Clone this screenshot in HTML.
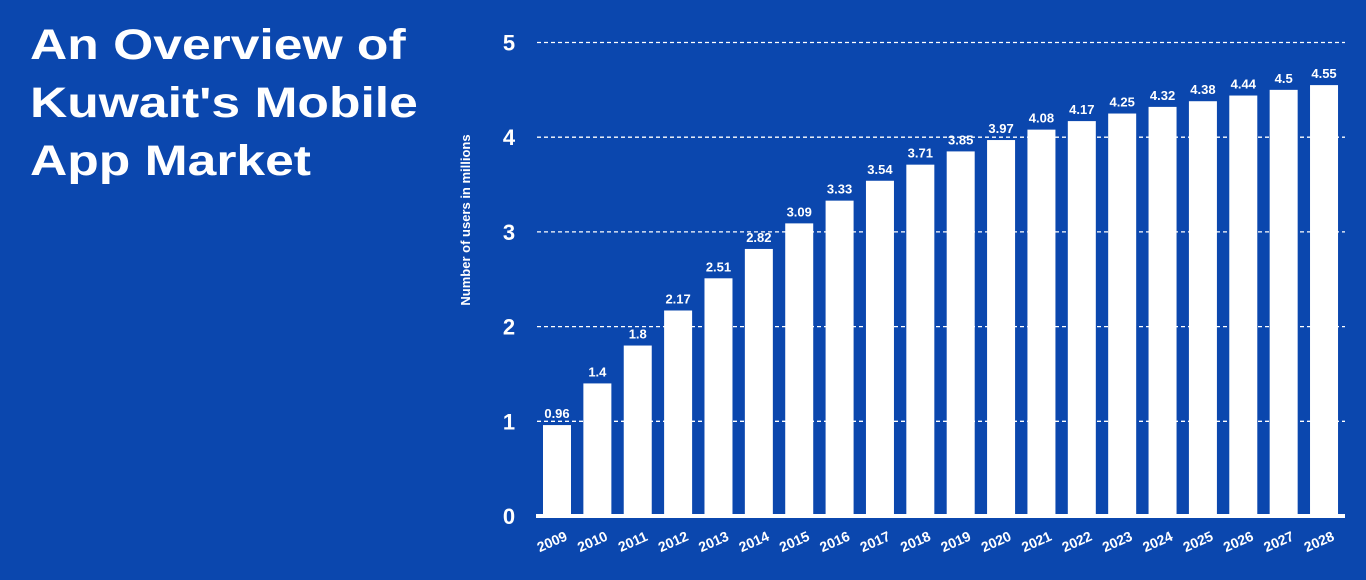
<!DOCTYPE html>
<html><head><meta charset="utf-8"><style>
body{margin:0;width:1366px;height:580px;background:#0b47ae;overflow:hidden;font-family:"Liberation Sans",sans-serif;}
#title{position:absolute;left:30px;top:16px;color:#fff;font-weight:bold;font-size:43px;line-height:58px;transform:scaleX(1.2);transform-origin:left top;white-space:nowrap;}
svg{position:absolute;left:0;top:0}
</style></head><body>
<div id="title">An Overview of<br>Kuwait's Mobile<br>App Market</div>
<svg id="c" width="1366" height="580"></svg>
<script>
const years=["2009","2010","2011","2012","2013","2014","2015","2016","2017","2018","2019","2020","2021","2022","2023","2024","2025","2026","2027","2028"];
const users=[0.96,1.4,1.8,2.17,2.51,2.82,3.09,3.33,3.54,3.71,3.85,3.97,4.08,4.17,4.25,4.32,4.38,4.44,4.5,4.55];
const ticks=[0,1,2,3,4,5];
const svg=document.getElementById('c');const NS='http://www.w3.org/2000/svg';
function y(v){return 516-v*94.7;}
function x(i){return 543+i*40.37;}
function mk(t,a,txt){const e=document.createElementNS(NS,t);for(const k in a)e.setAttribute(k,a[k]);if(txt!==undefined)e.textContent=txt;svg.appendChild(e);return e;}
ticks.forEach(t=>{
 if(t>0){const g=mk('line',{x1:537,x2:1345,y1:y(t),y2:y(t),stroke:'#fff','stroke-width':1.3,'stroke-dasharray':'4 3'});
 
 }
 const l=mk('text',{x:509,y:y(t)+8,fill:'#fff','font-size':22,'font-weight':'bold','text-anchor':'middle'},t);
 
 
});
const yt=mk('text',{x:0,y:0,fill:'#fff','font-size':13,'font-weight':'bold','text-anchor':'middle',transform:'translate(470,220) rotate(-90)'},'Number of users in millions');


users.forEach((v,i)=>{
 const b=mk('rect',{x:x(i),y:y(v),width:28,height:y(0)-y(v),fill:'#fff'});
 
 
 const t=mk('text',{x:x(i)+14,y:y(v)-7,fill:'#fff','font-size':13,'font-weight':'bold','text-anchor':'middle'},String(v));
 
 
 const xl=mk('text',{x:0,y:0,fill:'#fff','font-size':14,'font-weight':'bold','text-anchor':'middle',transform:'translate('+(x(i)+11)+',546) rotate(-24)'},years[i]);
 
 
});
const ax=mk('rect',{x:536,y:514,width:809,height:4,fill:'#fff'});


</script>
</body></html>
